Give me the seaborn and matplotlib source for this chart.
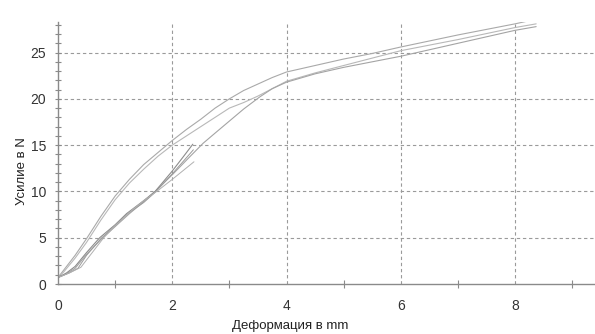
import matplotlib
matplotlib.use("Agg")
import matplotlib.pyplot as plt
from matplotlib.ticker import MultipleLocator, FixedLocator, NullFormatter
import seaborn as sns
import pandas as pd

# Force-deformation test curves (deformation in mm, force in N)
upper_x = [0, 0.1, 0.3, 0.5, 0.75, 1.0, 1.25, 1.5, 1.75, 2.0, 2.25, 2.5, 2.75, 3.0,
           3.25, 3.5, 3.75, 4.0, 4.5, 5.0, 5.5, 6.0, 7.0, 8.0, 8.37]
upper_y = [0.7, 1.5, 3.1, 4.9, 7.3, 9.5, 11.3, 12.9, 14.2, 15.5, 16.7, 17.8, 19.0, 20.0,
           20.9, 21.6, 22.3, 22.9, 23.6, 24.3, 24.9, 25.6, 26.9, 28.1, 28.6]

middle_x = [0, 0.1, 0.3, 0.5, 0.75, 1.0, 1.25, 1.5, 1.75, 2.0, 2.25, 2.5, 2.75, 3.0,
            3.25, 3.5, 3.75, 4.0, 4.5, 5.0, 5.5, 6.0, 7.0, 8.0, 8.37]
middle_y = [0.7, 1.3, 2.8, 4.5, 6.9, 9.1, 10.9, 12.4, 13.8, 15.0, 16.0, 17.0, 18.0, 19.0,
            19.6, 20.3, 21.1, 21.9, 22.8, 23.6, 24.4, 25.2, 26.4, 27.7, 28.1]

lower_x = [0, 0.15, 0.3, 0.5, 0.75, 1.0, 1.25, 1.5, 1.7, 2.0, 2.3, 2.54, 2.75, 3.0,
           3.25, 3.53, 3.75, 4.0, 4.5, 5.0, 6.0, 7.0, 8.0, 8.37]
lower_y = [0.7, 1.1, 1.7, 3.2, 4.8, 6.2, 7.6, 8.9, 10.0, 11.8, 13.7, 15.2, 16.3, 17.6,
           18.9, 20.2, 21.1, 21.8, 22.7, 23.4, 24.6, 26.0, 27.4, 27.8]

short1_x = [0, 0.15, 0.3, 0.5, 0.73, 1.0, 1.2, 1.5, 1.7, 2.0, 2.2, 2.36]
short1_y = [0.7, 1.2, 1.9, 3.4, 5.0, 6.4, 7.6, 9.0, 10.0, 12.2, 13.8, 15.1]

short2_x = [0, 0.2, 0.35, 0.5, 0.75, 1.0, 1.2, 1.5, 1.7, 2.0, 2.2, 2.37]
short2_y = [0.7, 1.2, 1.7, 3.1, 4.9, 6.3, 7.5, 8.8, 9.9, 11.9, 13.3, 14.5]

short3_x = [0, 0.2, 0.4, 0.6, 0.8, 1.0, 1.3, 1.5, 1.75, 2.0, 2.2, 2.38]
short3_y = [0.7, 1.2, 1.8, 3.4, 5.0, 6.3, 8.0, 9.0, 10.1, 11.3, 12.3, 13.2]

x_label = "Деформация в mm"
y_label = "Усилие в N"

sns.set_style("white")
plt.rcParams["font.family"] = ["Liberation Sans Narrow", "Liberation Sans", "DejaVu Sans"]

curves = [
    ("upper", upper_x, upper_y, "#a9a9a9", 0.8),
    ("middle", middle_x, middle_y, "#b8b8b8", 0.8),
    ("lower", lower_x, lower_y, "#a4a4a4", 0.8),
    ("short1", short1_x, short1_y, "#8c8c8c", 0.8),
    ("short2", short2_x, short2_y, "#9a9a9a", 0.7),
    ("short3", short3_x, short3_y, "#b0b0b0", 0.7),
]

fig = plt.figure(figsize=(5.95, 3.34), dpi=100)
ax = fig.add_axes([58 / 595, 50 / 334, 537 / 595, 262 / 334])

for name, xs, ys, color, lw in curves:
    df = pd.DataFrame({"x": xs, "y": ys})
    sns.lineplot(data=df, x="x", y="y", ax=ax, sort=False, estimator=None,
                 color=color, linewidth=lw)

ax.set_xlim(0, 9.4)
ax.set_ylim(0, 28.3)

# spines: only the two axis lines
for side in ("top", "right"):
    ax.spines[side].set_visible(False)
for side in ("left", "bottom"):
    ax.spines[side].set_color("#8a8a8a")
    ax.spines[side].set_linewidth(1.0)

# x ticks: labels at even values, tick marks at odd values
ax.xaxis.set_major_locator(FixedLocator([0, 2, 4, 6, 8]))
ax.xaxis.set_minor_locator(FixedLocator([1, 3, 5, 7, 9]))
ax.tick_params(axis="x", which="both", bottom=True)
ax.tick_params(axis="x", which="major", length=0, pad=11, labelsize=10, labelcolor="#333333")
ax.tick_params(axis="x", which="minor", direction="inout", length=6, width=0.8, color="#8a8a8a")

# y ticks: labels every 5, small marks every 1
ax.yaxis.set_major_locator(FixedLocator([0, 5, 10, 15, 20, 25]))
ax.yaxis.set_minor_locator(MultipleLocator(1))
ax.yaxis.set_minor_formatter(NullFormatter())
ax.tick_params(axis="y", which="both", left=True, direction="inout", length=5,
               width=0.8, color="#8a8a8a")
ax.tick_params(axis="y", which="major", pad=6, labelsize=10, labelcolor="#333333")

# dashed grid
for v in [2, 4, 6, 8]:
    ax.axvline(v, color="#9a9a9a", linewidth=0.8, linestyle=(0, (3, 2.5)), zorder=0)
for v in [5, 10, 15, 20, 25]:
    ax.axhline(v, color="#9a9a9a", linewidth=0.8, linestyle=(0, (3, 2.5)), zorder=0)

ax.set_xlabel(x_label, fontsize=9.5, color="#222222", va="center")
ax.set_ylabel(y_label, fontsize=9.5, color="#222222", va="center")
ax.xaxis.set_label_coords(0.432, -0.16)
ax.yaxis.set_label_coords(-0.067, 0.43)

fig.savefig("out.png", dpi=100, facecolor="white")
